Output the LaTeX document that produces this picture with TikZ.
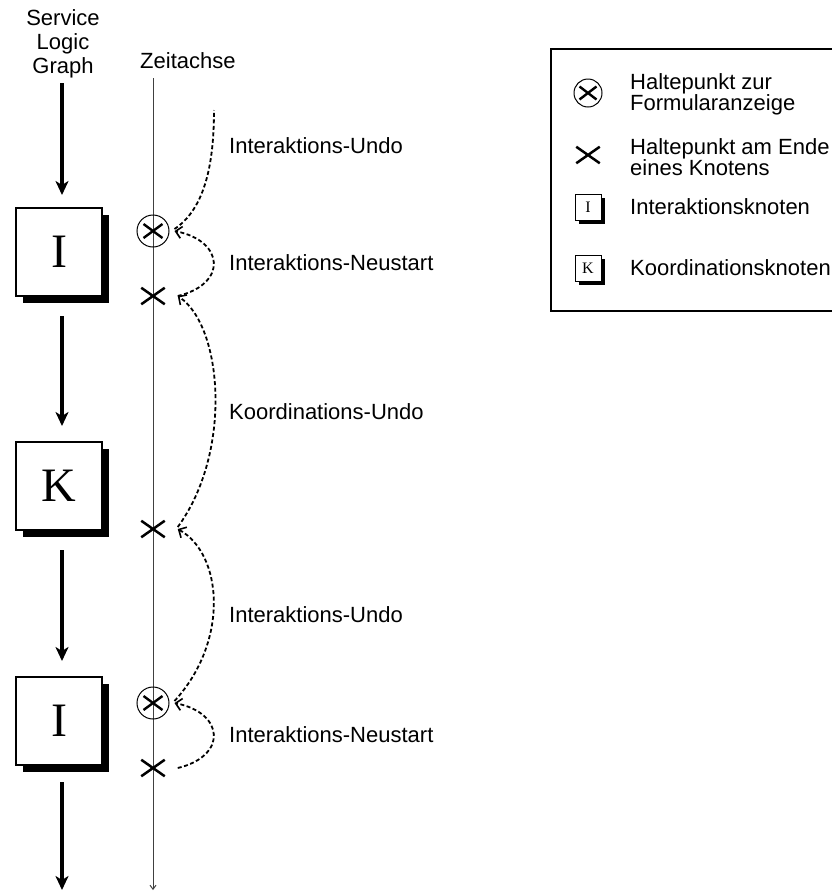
\documentclass[tikz,border=0pt]{standalone}
\usepackage{fontspec}
\setmainfont{Liberation Sans}
\newfontfamily\boxfont{Liberation Serif}
\usetikzlibrary{arrows.meta,shadows,shapes.misc}

% cross drawn inside a circular marker
\newcommand{\markcross}[2]{%
  \draw[line width=2.4pt]
    ([shift={(-#1,-#2)}]path picture bounding box.center) -- ([shift={(#1,#2)}]path picture bounding box.center)
    ([shift={(-#1,#2)}]path picture bounding box.center) -- ([shift={(#1,-#2)}]path picture bounding box.center);}

\begin{document}
\begin{tikzpicture}[x=1pt,y=-1pt,
  lbl/.style={font=\fontsize{22}{24}\selectfont, inner sep=0pt},
  lgtext/.style={font=\fontsize{22}{21}\selectfont, inner sep=0pt, align=left, anchor=west},
  nodebox/.style={draw, line width=2pt, fill=white, minimum width=86pt, minimum height=88pt,
    inner sep=0pt, font=\boxfont\fontsize{48}{48}\selectfont,
    general shadow={fill=black, shadow xshift=7pt, shadow yshift=-7pt}},
  smallbox/.style={draw, line width=1pt, fill=white, minimum size=26pt, inner sep=0pt,
    font=\boxfont\fontsize{16}{16}\selectfont,
    general shadow={fill=black, shadow xshift=3.5pt, shadow yshift=-3.5pt}},
  haltx/.style={cross out, draw, line width=2.5pt, minimum width=21pt, minimum height=14pt, inner sep=0pt},
  haltc/.style={circle, draw, line width=1pt, minimum size=32pt, inner sep=0pt,
    path picture={\markcross{9.5pt}{7pt}}},
  haltcsmall/.style={circle, draw, line width=1pt, minimum size=28pt, inner sep=0pt,
    path picture={\markcross{8.5pt}{6.5pt}}},
  flow/.style={line width=3.5pt, -{Stealth[length=14pt, width=13pt, inset=4pt]}},
  axis/.style={line width=1pt, draw=black!75, -{Straight Barb[length=4pt, width=6pt]}},
  undo/.style={line width=1.8pt, dash pattern=on 4pt off 2.5pt},
  undotip/.style={undo, -{Straight Barb[length=6pt, width=12pt, line width=1.6pt]}}
]
\useasboundingbox (0,0) rectangle (832,892);

% headings
\node[lbl, align=center, anchor=north] (slg) at (63,9) {Service\\Logic\\Graph};
\node[lbl, anchor=base west] (zeit) at (140,68) {Zeitachse};

% time axis
\coordinate (axtop) at (153,78);
\coordinate (axbot) at (153,890);
\draw[axis] (axtop) -- (axbot);

% service logic nodes
\node[nodebox] (I1) at (59,252) {I};
\node[nodebox] (K)  at (59,486) {K};
\node[nodebox] (I2) at (59,721) {I};

% flow of the service logic graph
\coordinate (slgtop) at (62,83);
\coordinate (slgend) at (62,890);
\draw[flow] (slgtop) -- ([xshift=3pt,yshift=12pt]I1.north);
\draw[flow] ([xshift=3pt,yshift=-19pt]I1.south) -- ([xshift=3pt,yshift=15pt]K.north);
\draw[flow] ([xshift=3pt,yshift=-19pt]K.south) -- ([xshift=3pt,yshift=15pt]I2.north);
\draw[flow] ([xshift=3pt,yshift=-16pt]I2.south) -- (slgend);

% breakpoints on the time axis
\node[haltc] (c1) at (153,231) {};
\node[haltx] (x1) at (153,296) {};
\node[haltx] (x2) at (153,529) {};
\node[haltc] (c2) at (153,703) {};
\node[haltx] (x3) at (153,768) {};

% undo and restart jumps
\coordinate (undostart) at (214,110);
\draw[undo] ([xshift=5pt,yshift=2pt]c1.east) .. controls +(30pt,20pt) and +(0pt,-55pt) .. (undostart);
\draw[undotip] ([xshift=13pt]x1.east) .. controls +(50pt,12pt) and +(50pt,-10pt) .. ([xshift=5pt]c1.east);
\draw[undotip] ([xshift=13pt,yshift=2pt]x2.east) .. controls +(55pt,75pt) and +(45pt,-30pt) .. ([xshift=13pt]x1.east);
\draw[undotip] ([xshift=5pt,yshift=2pt]c2.east) .. controls +(55pt,60pt) and +(45pt,-25pt) .. ([xshift=13pt]x2.east);
\draw[undotip] ([xshift=13pt]x3.east) .. controls +(50pt,12pt) and +(50pt,-10pt) .. ([xshift=5pt]c2.east);

\node[lbl, anchor=west] (l1) at (229,146) {Interaktions-Undo};
\node[lbl, anchor=west] (l2) at (229,263) {Interaktions-Neustart};
\node[lbl, anchor=west] (l3) at (229,412) {Koordinations-Undo};
\node[lbl, anchor=west] (l4) at (229,615) {Interaktions-Undo};
\node[lbl, anchor=west] (l5) at (229,735) {Interaktions-Neustart};

% legend
\draw[line width=1.5pt] (551,49) rectangle (850,311);
\node[haltcsmall] (lc) at (588,93) {};
\node[lgtext] (lct) at (630,94) {Haltepunkt zur\\Formularanzeige};
\node[haltx] (lx) at (588,155) {};
\node[lgtext] (lxt) at (630,157) {Haltepunkt am Ende\\eines Knotens};
\node[smallbox] (li) at (588,207) {I};
\node[lgtext] (lit) at (630,207) {Interaktionsknoten};
\node[smallbox] (lk) at (588,268) {K};
\node[lgtext] (lkt) at (630,268) {Koordinationsknoten};
\end{tikzpicture}
\end{document}
